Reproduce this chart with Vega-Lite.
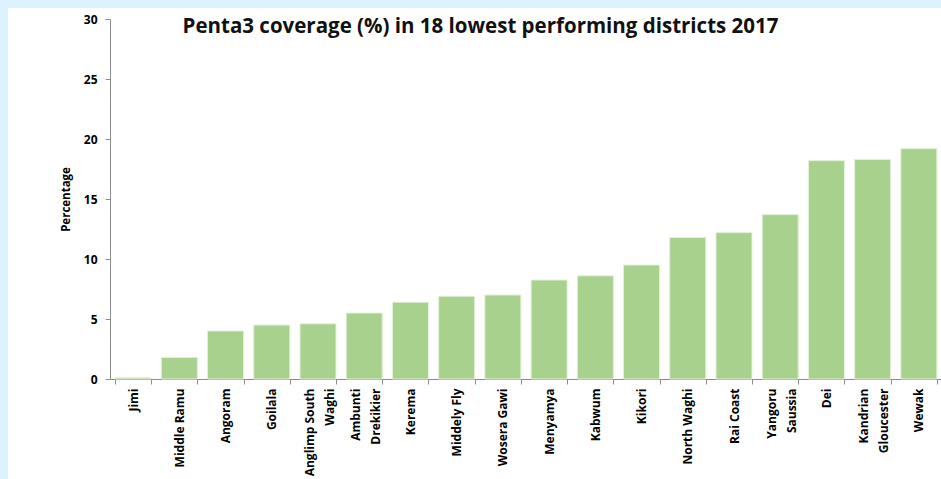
{
  "$schema": "https://vega.github.io/schema/vega-lite/v6.json",
  "autosize": {"type": "none"},
  "padding": {"left": 8, "top": 8, "right": 0, "bottom": 0},
  "width": 933,
  "height": 471,
  "background": "#dcf2fc",
  "config": {
    "view": {"stroke": null, "fill": "white"},
    "font": "Open Sans"
  },
  "title": {
    "text": "Penta3 coverage (%) in 18 lowest performing districts 2017",
    "font": "Open Sans",
    "fontSize": 20.5,
    "fontWeight": "bold",
    "color": "#111111",
    "anchor": "middle",
    "frame": "group",
    "baseline": "alphabetic",
    "offset": 0,
    "dx": 6,
    "dy": 45
  },
  "data": {
    "values": [
      {"district": "Jimi", "coverage": 0.1},
      {"district": "Middle Ramu", "coverage": 1.8},
      {"district": "Angoram", "coverage": 4.0},
      {"district": "Goilala", "coverage": 4.5},
      {"district": "Anglimp South|Waghi", "coverage": 4.6},
      {"district": "Ambunti|Drekikier", "coverage": 5.5},
      {"district": "Kerema", "coverage": 6.4},
      {"district": "Middely Fly", "coverage": 6.9},
      {"district": "Wosera Gawi", "coverage": 7.0},
      {"district": "Menyamya", "coverage": 8.25},
      {"district": "Kabwum", "coverage": 8.6},
      {"district": "Kikori", "coverage": 9.5},
      {"district": "North Waghi", "coverage": 11.8},
      {"district": "Rai Coast", "coverage": 12.2},
      {"district": "Yangoru|Saussia", "coverage": 13.7},
      {"district": "Dei", "coverage": 18.2},
      {"district": "Kandrian|Gloucester", "coverage": 18.3},
      {"district": "Wewak", "coverage": 19.2}
    ]
  },
  "mark": {"type": "bar", "color": "#a9d18e", "stroke": "#e4f1da", "strokeWidth": 1},
  "encoding": {
    "x": {
      "field": "district",
      "type": "nominal",
      "sort": null,
      "scale": {"range": [102, 934], "paddingInner": 0.22, "paddingOuter": 0.11},
      "axis": {
        "title": null,
        "offset": -100,
        "labelAngle": -90,
        "labelAlign": "right",
        "labelBaseline": "middle",
        "labelExpr": "datum.value ? split(datum.value, '|') : ''",
        "labelLineHeight": 20,
        "labelOffset": {"condition": {"test": "datum.value && indexof(datum.value, '|') >= 0", "value": -9}, "value": 0},
        "labelFont": "Open Sans",
        "labelFontSize": 12,
        "labelFontWeight": "bold",
        "labelColor": "#000000",
        "labelOverlap": false,
        "labelLimit": 200,
        "labelPadding": 4,
        "tickBand": "extent",
        "tickSize": 5,
        "tickColor": "#8c8c8c",
        "domainColor": "#8c8c8c",
        "grid": false
      }
    },
    "y": {
      "field": "coverage",
      "type": "quantitative",
      "scale": {"domain": [0, 30], "range": [371, 11], "nice": false},
      "axis": {
        "title": "Percentage",
        "offset": -102,
        "values": [0, 5, 10, 15, 20, 25, 30],
        "titleFont": "Open Sans",
        "titleFontSize": 11.5,
        "titleFontWeight": "bold",
        "titleColor": "#000000",
        "titlePadding": 12,
        "labelFont": "Open Sans",
        "labelFontSize": 12,
        "labelFontWeight": "bold",
        "labelColor": "#000000",
        "labelPadding": 8,
        "tickSize": 5,
        "tickColor": "#8c8c8c",
        "domainColor": "#8c8c8c",
        "grid": false
      }
    }
  }
}
